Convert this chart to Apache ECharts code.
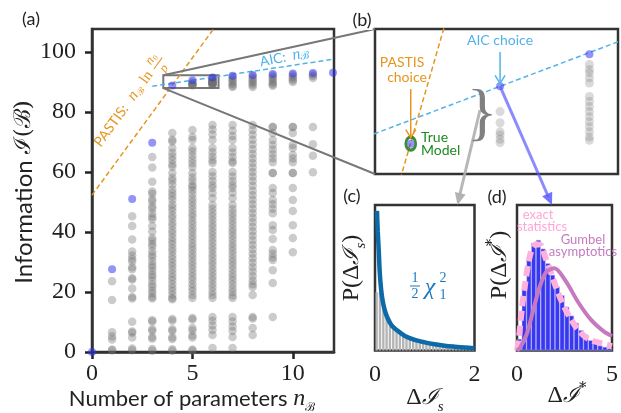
<!DOCTYPE html>
<html>
<head>
<meta charset="utf-8">
<script src="https://cdn.jsdelivr.net/npm/echarts@6/dist/echarts.min.js"></script>
<style>
html, body { margin: 0; padding: 0; background: #fff; }
#chart { width: 621px; height: 413px; }
</style>
</head>
<body>
<div id="chart"></div>
<script>
// panel (a): information of best model per number of parameters
var nParams = [0, 1, 2, 3, 4, 5, 6, 7, 8, 9, 10, 11, 12];
var blueInfo = [0, 27.6, 51.0, 69.8, 88.9, 90.6, 91.55, 92.1, 92.4, 92.7, 92.9, 93.0, 93.1];

// all other models, one list per column
var grayN1 = [23.6, 17.3, 6.6, 5.2, 4.2, 0.8, 0.5];
var grayN2 = [45.3, 42.0, 37.5, 33.5, 32.2, 31.0, 30.2, 28.3, 27.6, 24.6, 24.2, 21.2, 18.3, 17.8, 10.1, 6.8, 6.4, 4.8, 1.2, 0.6];
var grayN3 = [65.0, 61.5, 56.8, 53.5, 52.8, 51.0, 50.2, 48.6, 47.8, 46.2, 45.0, 44.3, 42.0, 40.2, 38.0, 37.2, 36.0, 35.2, 33.6, 32.4, 31.5, 30.2, 29.0, 28.2, 27.0, 25.8, 25.0, 23.8, 22.5, 21.6, 20.4, 19.5, 18.3, 17.8, 10.6, 10.2, 7.6, 7.0, 5.0, 4.4, 1.0, 0.4];
var grayN4 = [73.0, 70.8, 70.2, 68.0, 66.4, 65.2, 64.0, 62.6, 61.8, 59.7, 58.0, 57.1, 55.8, 54.2, 53.0, 51.9, 50.8, 49.2, 48.1, 47.0, 45.6, 44.5, 43.1, 42.0, 40.6, 39.5, 38.2, 37.0, 35.9, 34.6, 33.5, 32.2, 31.0, 29.8, 28.7, 27.4, 26.2, 25.0, 23.9, 22.6, 21.4, 20.3, 19.1, 18.0, 17.6, 11.0, 10.4, 7.6, 7.0, 4.9, 4.3, 0.9, 0.4];
var grayN5 = [74.0, 71.7, 70.7, 68.0, 66.9, 65.5, 64.2, 62.9, 61.7, 59.7, 58.2, 57.0, 55.6, 55.0, 53.9, 52.6, 51.2, 50.0, 48.8, 47.5, 46.2, 45.1, 43.8, 42.6, 41.3, 40.1, 38.8, 37.6, 36.3, 35.1, 33.9, 32.6, 31.4, 30.1, 28.9, 27.7, 26.4, 25.2, 24.0, 22.7, 21.5, 20.3, 19.0, 18.0, 11.3, 10.8, 8.0, 7.2, 5.5, 4.8, 0.8, 0.4, 89.85, 89.52, 89.25, 89.16, 89.03, 88.93];
var grayN6 = [75.7, 74.2, 72.5, 70.7, 68.0, 66.6, 65.2, 63.9, 63.0, 60.0, 58.6, 57.1, 55.7, 54.7, 53.0, 51.3, 49.0, 47.8, 46.5, 45.3, 44.0, 42.7, 41.5, 40.2, 39.0, 37.8, 36.5, 35.2, 34.0, 32.7, 31.5, 30.2, 29.0, 27.7, 26.5, 25.2, 24.0, 22.7, 21.5, 20.2, 19.0, 18.0, 11.7, 10.4, 8.8, 7.3, 5.7, 1.3, 91.25, 91.1, 91.0, 90.85, 90.7, 90.3, 90.15, 90.0, 89.85, 89.7, 89.55, 89.4, 89.25, 89.1, 89.0];
var grayN7 = [75.7, 73.8, 72.0, 70.7, 68.0, 66.5, 65.0, 63.6, 63.0, 60.0, 58.5, 57.0, 55.7, 54.7, 53.1, 51.3, 49.0, 47.6, 46.3, 45.0, 43.8, 42.5, 41.2, 40.0, 38.8, 37.5, 36.2, 35.0, 33.8, 32.5, 31.2, 30.0, 28.8, 27.5, 26.2, 25.0, 23.8, 22.5, 21.2, 20.0, 18.8, 18.0, 11.7, 10.2, 8.5, 7.0, 5.0, 1.3, 91.8, 91.2, 90.6, 90.0, 89.4, 88.8, 88.4];
var grayN8 = [75.7, 74.0, 72.4, 70.8, 69.2, 67.6, 66.0, 64.5, 63.0, 61.5, 60.0, 58.5, 57.0, 55.4, 53.8, 52.3, 50.8, 49.3, 47.8, 46.3, 44.8, 43.3, 41.8, 40.3, 38.8, 37.3, 35.8, 34.3, 32.8, 31.3, 29.8, 28.3, 26.8, 25.3, 23.8, 22.6, 21.7, 19.0, 11.7, 11.2, 8.0, 5.7, 92.0, 91.4, 90.8, 90.2, 89.6, 89.0, 88.4];
var grayN9 = [75.0, 75.0, 73.0, 70.7, 69.0, 67.5, 66.0, 64.6, 63.3, 59.7, 59.7, 54.7, 53.0, 50.7, 49.3, 47.8, 46.3, 42.3, 40.7, 37.7, 34.0, 32.8, 31.5, 30.7, 27.3, 23.0, 11.7, 92.2, 91.6, 91.0, 90.4, 89.8, 89.2, 88.8];
var grayN10 = [75.0, 75.0, 73.0, 69.0, 68.0, 65.7, 64.5, 63.3, 59.7, 59.7, 54.7, 50.7, 47.0, 42.3, 38.0, 33.3, 92.4, 91.8, 91.2, 90.6, 90.0];
var grayN11 = [75.0, 69.3, 65.4, 59.9, 92.5, 92.0, 91.4];

// selection criteria lines (end points)
var pastisX = [0, 6.05];
var pastisY = [52.3, 107.7];
var aicX = [3, 12];
var aicY = [88.6, 97.6];

// panel (c): chi-square curve and histogram
var chiX = [0.04, 0.055, 0.075, 0.095, 0.12, 0.15, 0.19, 0.25, 0.33, 0.45, 0.6, 0.8, 1.0, 1.2, 1.4, 1.6, 1.8, 2.0];
var chiY = [0.96, 0.82, 0.69, 0.54, 0.43, 0.35, 0.285, 0.225, 0.175, 0.137, 0.1, 0.073, 0.056, 0.043, 0.033, 0.026, 0.02, 0.016];
var histSX = [0.033, 0.1, 0.167, 0.233, 0.3, 0.367, 0.433, 0.5, 0.567, 0.633, 0.7, 0.767, 0.833, 0.9, 0.967, 1.033, 1.1, 1.167, 1.233, 1.3, 1.367, 1.433, 1.5, 1.567, 1.633, 1.7, 1.767, 1.833, 1.9, 1.967];
var histSY = [0.40, 0.40, 0.28, 0.22, 0.18, 0.15, 0.13, 0.115, 0.1, 0.088, 0.078, 0.07, 0.062, 0.055, 0.05, 0.045, 0.04, 0.036, 0.032, 0.029, 0.026, 0.023, 0.021, 0.019, 0.017, 0.015, 0.013, 0.012, 0.011, 0.01];

// panel (d): max statistic histogram, exact and Gumbel curves
var histDX = [0.125, 0.375, 0.625, 0.875, 1.125, 1.375, 1.625, 1.875, 2.125, 2.375, 2.625, 2.875, 3.125, 3.375, 3.625, 3.875, 4.125, 4.375, 4.625, 4.875];
var histDY = [0.08, 0.42, 0.63, 0.74, 0.76, 0.70, 0.60, 0.52, 0.44, 0.38, 0.30, 0.24, 0.19, 0.14, 0.11, 0.07, 0.05, 0.035, 0.025, 0.015];
var exactX = [0, 0.09, 0.25, 0.43, 0.6, 0.77, 1.02, 1.27, 1.52, 1.78, 2.04, 2.38, 2.72, 3.23, 3.74, 4.42, 5.0];
var exactY = [0, 0.07, 0.28, 0.46, 0.6, 0.69, 0.73, 0.72, 0.63, 0.54, 0.44, 0.33, 0.24, 0.14, 0.08, 0.05, 0.03];
var gumbelX = [0, 0.17, 0.52, 0.86, 1.2, 1.54, 1.97, 2.55, 3.23, 3.9, 4.58, 5.0];
var gumbelY = [0, 0.02, 0.115, 0.28, 0.44, 0.54, 0.565, 0.48, 0.33, 0.21, 0.13, 0.1];

var ORANGE = '#e6951f';
var SKY = '#52b2ea';
var GREEN = '#1c8a1c';
var SANS = 'Lato';
var SERIF = 'Liberation Serif';

function zip(xs, ys) {
    var out = [];
    for (var i = 0; i < xs.length; i++) out.push([xs[i], ys[i]]);
    return out;
}

var grayCols = [null, grayN1, grayN2, grayN3, grayN4, grayN5, grayN6, grayN7, grayN8, grayN9, grayN10, grayN11];
var grayData = [];
for (var n = 1; n < grayCols.length; n++) {
    for (var k = 0; k < grayCols[n].length; k++) grayData.push([n, grayCols[n][k]]);
}
// only the points that fall in the zoom window of (b)
var zoomGray = grayData.filter(function(p) { return p[1] > 87.5; });
var blueData = zip(nParams, blueInfo);

var chart = echarts.init(document.getElementById('chart'), null, {renderer: 'canvas'});

function boxGrid(l, t, w, h) {
    return {left: l, top: t, width: w, height: h, show: true, borderColor: '#333', borderWidth: 2.5, backgroundColor: '#fff'};
}
function hiddenAxis(idx, min, max) {
    return {type: 'value', gridIndex: idx, min: min, max: max, show: false};
}
var tickFont = {fontFamily: SERIF, fontSize: 24, color: '#222'};

var option = {
    animation: false,
    backgroundColor: '#fff',
    grid: [
        boxGrid(92, 29, 242, 323),
        boxGrid(375, 29, 243, 145),
        boxGrid(375, 205, 99.5, 145.5),
        boxGrid(517, 205, 99, 145.5)
    ],
    xAxis: [
        {type: 'value', gridIndex: 0, min: 0, max: 12.05, interval: 5,
         axisLine: {lineStyle: {color: '#333', width: 2.5}},
         axisTick: {length: 7, lineStyle: {color: '#222', width: 2.5}},
         axisLabel: Object.assign({margin: 10, showMaxLabel: false}, tickFont),
         splitLine: {show: false}},
        hiddenAxis(1, 3.6, 6.32),
        {type: 'value', gridIndex: 2, min: 0, max: 2, interval: 2,
         axisLine: {show: false}, axisTick: {show: false}, splitLine: {show: false},
         axisLabel: Object.assign({margin: 12, showMinLabel: true, showMaxLabel: true}, tickFont)},
        {type: 'value', gridIndex: 3, min: 0, max: 5, interval: 5,
         axisLine: {show: false}, axisTick: {show: false}, splitLine: {show: false},
         axisLabel: Object.assign({margin: 12, showMinLabel: true, showMaxLabel: true}, tickFont)}
    ],
    yAxis: [
        {type: 'value', gridIndex: 0, min: 0, max: 107.7, interval: 20,
         axisLine: {lineStyle: {color: '#333', width: 2.5}},
         axisTick: {length: 7, lineStyle: {color: '#222', width: 2.5}},
         axisLabel: Object.assign({margin: 16, showMaxLabel: false}, tickFont),
         splitLine: {show: false}},
        hiddenAxis(1, 88, 92.3),
        hiddenAxis(2, 0, 1),
        hiddenAxis(3, 0, 1)
    ],
    series: [
        // (a)
        {type: 'scatter', xAxisIndex: 0, yAxisIndex: 0, data: grayData, symbolSize: 8.5,
         itemStyle: {color: 'rgba(112,112,112,0.45)'}, z: 2},
        {type: 'line', xAxisIndex: 0, yAxisIndex: 0, data: zip(pastisX, pastisY), symbol: 'none',
         lineStyle: {color: ORANGE, width: 1.5, type: [5, 3]}, z: 3},
        {type: 'line', xAxisIndex: 0, yAxisIndex: 0, data: zip(aicX, aicY), symbol: 'none',
         lineStyle: {color: SKY, width: 1.5, type: [5, 3]}, z: 3,
         markArea: {silent: true, itemStyle: {color: 'rgba(0,0,0,0)', borderColor: '#777', borderWidth: 2},
                    data: [[{coord: [3.55, 92.3]}, {coord: [6.3, 88]}]]}},
        {type: 'scatter', xAxisIndex: 0, yAxisIndex: 0, data: blueData, symbolSize: 8,
         itemStyle: {color: 'rgba(50,50,240,0.65)'}, z: 4},
        // (b) zoom
        {type: 'scatter', xAxisIndex: 1, yAxisIndex: 1, data: zoomGray, symbolSize: 9,
         itemStyle: {color: 'rgba(128,128,128,0.36)'}, z: 2},
        {type: 'line', xAxisIndex: 1, yAxisIndex: 1, data: zip(pastisX, pastisY), symbol: 'none',
         lineStyle: {color: ORANGE, width: 1.5, type: [5, 3]}, z: 3},
        {type: 'line', xAxisIndex: 1, yAxisIndex: 1, data: zip(aicX, aicY), symbol: 'none',
         lineStyle: {color: SKY, width: 1.5, type: [5, 3]}, z: 3},
        {type: 'scatter', xAxisIndex: 1, yAxisIndex: 1, data: blueData, symbolSize: 8,
         itemStyle: {color: 'rgba(50,50,240,0.65)'}, z: 4},
        {type: 'scatter', xAxisIndex: 1, yAxisIndex: 1, data: [blueData[4]], symbolSize: [10, 13],
         itemStyle: {color: 'rgba(0,0,0,0)', borderColor: '#0f6e0f', borderWidth: 3}, z: 5},
        // (c)
        {type: 'bar', xAxisIndex: 2, yAxisIndex: 2, data: zip(histSX, histSY), barWidth: 2.4,
         itemStyle: {color: '#b4b4b4'}, z: 2},
        {type: 'line', xAxisIndex: 2, yAxisIndex: 2, data: zip(chiX, chiY), symbol: 'none', smooth: 0.3,
         lineStyle: {color: '#0d6aa8', width: 4.5}, z: 3},
        // (d)
        {type: 'bar', xAxisIndex: 3, yAxisIndex: 3, data: zip(histDX, histDY), barWidth: 4.9,
         itemStyle: {color: '#3838f0', borderColor: 'rgba(190,190,255,0.9)', borderWidth: 0.6}, z: 2},
        {type: 'line', xAxisIndex: 3, yAxisIndex: 3, data: zip(exactX, exactY), symbol: 'none', smooth: 0.3,
         lineStyle: {color: '#ffb0dc', width: 6, type: [10, 5]}, z: 3},
        {type: 'line', xAxisIndex: 3, yAxisIndex: 3, data: zip(gumbelX, gumbelY), symbol: 'none', smooth: 0.3,
         lineStyle: {color: '#c779c0', width: 4}, z: 4}
    ]
};
chart.setOption(option);

// ---- annotations ----
function txt(x, y, text, style, rot) {
    return {type: 'text', x: x, y: y, rotation: rot || 0, z: 50,
            style: Object.assign({text: text, align: 'center', verticalAlign: 'middle', fill: '#222'}, style)};
}
function seg(pts, color, w) {
    return {type: 'polyline', z: 40, shape: {points: pts}, style: {stroke: color, lineWidth: w, fill: null}};
}
function arrowHead(from, tip, len, half, color) {
    var dx = tip[0] - from[0], dy = tip[1] - from[1];
    var l = Math.sqrt(dx * dx + dy * dy);
    dx /= l; dy /= l;
    var bx = tip[0] - dx * len, by = tip[1] - dy * len;
    return {type: 'polygon', z: 41, shape: {points: [tip, [bx - dy * half, by + dx * half], [bx + dy * half, by - dx * half]]},
            style: {fill: color}};
}

var rA = chart.convertToPixel({gridIndex: 0}, [3.55, 92.3]);
var rB = chart.convertToPixel({gridIndex: 0}, [3.55, 88]);
var aicPt = chart.convertToPixel({gridIndex: 1}, blueData[5]);
var truePt = chart.convertToPixel({gridIndex: 1}, blueData[4]);

var mathRich = {
    m: {fontFamily: SERIF, fontSize: 24, fontStyle: 'italic', fill: '#222'},
    r: {fontFamily: SERIF, fontSize: 24, fill: '#222'},
    c: {fontFamily: 'DejaVu Serif', fontSize: 22, fontStyle: 'italic', fill: '#222'},
    b: {fontFamily: SERIF, fontSize: 15, fontStyle: 'italic', fill: '#222', verticalAlign: 'bottom', lineHeight: 34},
    p: {fontFamily: 'DejaVu Serif', fontSize: 15, fill: '#222', verticalAlign: 'top', lineHeight: 30}
};

var graphics = [
    // zoom lines (a) -> (b)
    seg([rA, [375, 29]], '#777', 2),
    seg([rB, [375, 174]], '#777', 2),
    // panel letters
    txt(31, 19, '(a)', {fontFamily: SANS, fontSize: 18}),
    txt(362, 20, '(b)', {fontFamily: SANS, fontSize: 18, backgroundColor: '#fff', padding: [1, 1]}),
    txt(352, 196, '(c)', {fontFamily: SANS, fontSize: 18}),
    txt(497, 197, '(d)', {fontFamily: SANS, fontSize: 18}),
    // (a) axis titles
    txt(24, 192, '{s|Information }{c|ℐ(ℬ)}', {rich: {
        s: {fontFamily: SANS, fontSize: 24, fill: '#222'},
        c: {fontFamily: 'DejaVu Serif', fontSize: 23, fill: '#222'}}}, Math.PI / 2),
    txt(192, 399, '{s|Number of parameters }{m|n}{b|ℬ}', {rich: {
        s: {fontFamily: SANS, fontSize: 22, fill: '#222'},
        m: {fontFamily: SERIF, fontSize: 24, fontStyle: 'italic', fill: '#222'},
        b: {fontFamily: 'DejaVu Serif', fontSize: 12, fill: '#222', verticalAlign: 'bottom', lineHeight: 30}}}),
    // (c),(d) axis titles
    txt(352, 268, '{r|P(Δ}{c|ℐ}{b|s}{r|)}', {rich: mathRich}, Math.PI / 2),
    txt(425, 398, '{r|Δ}{c|ℐ}{b|s}', {rich: mathRich}),
    txt(500, 265, '{r|P(Δ}{c|ℐ}{p|*}{r|)}', {rich: mathRich}, Math.PI / 2),
    txt(567, 396, '{r|Δ}{c|ℐ}{p|*}', {rich: mathRich}),
    // criteria labels in (a)
    {type: 'group', x: 97, y: 145, rotation: 53.8 * Math.PI / 180, z: 50, children: [
        {type: 'text', x: 0, y: 0, style: {text: 'PASTIS:', fontFamily: SANS, fontSize: 14, fill: ORANGE, verticalAlign: 'middle'}},
        {type: 'text', x: 57, y: 0, style: {text: 'n', fontFamily: SERIF, fontSize: 16, fontStyle: 'italic', fill: ORANGE, verticalAlign: 'middle'}},
        {type: 'text', x: 65, y: 4, style: {text: 'ℬ', fontFamily: 'DejaVu Serif', fontSize: 9, fill: ORANGE, verticalAlign: 'middle'}},
        {type: 'text', x: 78, y: 0, style: {text: 'ln', fontFamily: SERIF, fontSize: 15, fill: ORANGE, verticalAlign: 'middle'}},
        {type: 'text', x: 96, y: -7, style: {text: 'n', fontFamily: SERIF, fontSize: 13, fontStyle: 'italic', fill: ORANGE, verticalAlign: 'middle'}},
        {type: 'text', x: 103, y: -4, style: {text: '0', fontFamily: SERIF, fontSize: 8, fill: ORANGE, verticalAlign: 'middle'}},
        {type: 'line', shape: {x1: 95, y1: 1, x2: 109, y2: 1}, style: {stroke: ORANGE, lineWidth: 1}},
        {type: 'text', x: 98, y: 9, style: {text: 'p', fontFamily: SERIF, fontSize: 13, fontStyle: 'italic', fill: ORANGE, verticalAlign: 'middle'}}
    ]},
    {type: 'group', x: 260, y: 62, rotation: 11 * Math.PI / 180, z: 50, children: [
        {type: 'text', x: 0, y: 0, style: {text: 'AIC:', fontFamily: SANS, fontSize: 14, fill: SKY, verticalAlign: 'middle'}},
        {type: 'text', x: 33, y: 0, style: {text: 'n', fontFamily: SERIF, fontSize: 16, fontStyle: 'italic', fill: SKY, verticalAlign: 'middle'}},
        {type: 'text', x: 41, y: 3, style: {text: 'ℬ', fontFamily: 'DejaVu Serif', fontSize: 11, fill: SKY, verticalAlign: 'middle'}}
    ]},
    // (b) annotations
    txt(500, 40, 'AIC choice', {fontFamily: SANS, fontSize: 14, fill: SKY}),
    seg([[aicPt[0], 52], [aicPt[0], aicPt[1] - 3]], SKY, 1.5),
    seg([[aicPt[0] - 5, aicPt[1] - 11], [aicPt[0], aicPt[1] - 3], [aicPt[0] + 5, aicPt[1] - 11]], SKY, 1.5),
    txt(402, 62, 'PASTIS', {fontFamily: SANS, fontSize: 14, fill: ORANGE}),
    txt(407, 77, 'choice', {fontFamily: SANS, fontSize: 14, fill: ORANGE}),
    seg([[truePt[0], 89], [truePt[0], truePt[1] - 6]], ORANGE, 1.5),
    seg([[truePt[0] - 5, truePt[1] - 14], [truePt[0], truePt[1] - 6], [truePt[0] + 5, truePt[1] - 14]], ORANGE, 1.5),
    {type: 'text', x: 421, y: 137, z: 50, style: {text: 'True', fontFamily: SANS, fontSize: 14, fill: GREEN, verticalAlign: 'middle'}},
    {type: 'text', x: 421, y: 150, z: 50, style: {text: 'Model', fontFamily: SANS, fontSize: 14, fill: GREEN, verticalAlign: 'middle'}},
    txt(482, 116, '}', {fontFamily: SERIF, fontSize: 64, fill: '#808080'}),
    // (b) -> (c) and (b) -> (d)
    seg([[480, 110], [459.5, 196]], 'rgba(175,175,175,0.9)', 3),
    arrowHead([480, 110], [457.5, 205], 12, 5.5, 'rgba(175,175,175,0.95)'),
    seg([aicPt, [548.5, 197]], 'rgba(90,90,255,0.7)', 3),
    arrowHead(aicPt, [552, 205], 12, 5.5, 'rgba(90,90,255,0.85)'),
    // (c) label
    txt(415, 278, '1', {fontFamily: SERIF, fontSize: 14, fill: '#1b78c0'}),
    {type: 'line', z: 50, shape: {x1: 410, y1: 286, x2: 420, y2: 286}, style: {stroke: '#1b78c0', lineWidth: 1}},
    txt(415, 294, '2', {fontFamily: SERIF, fontSize: 14, fill: '#1b78c0'}),
    txt(430, 288, 'χ', {fontFamily: SERIF, fontSize: 24, fontStyle: 'italic', fill: '#1b78c0'}),
    txt(443, 278, '2', {fontFamily: SERIF, fontSize: 14, fill: '#1b78c0'}),
    txt(443, 295, '1', {fontFamily: SERIF, fontSize: 14, fill: '#1b78c0'}),
    // (d) labels
    txt(538, 215, 'exact', {fontFamily: SANS, fontSize: 13, fill: '#ffa6d8'}),
    txt(542, 227, 'statistics', {fontFamily: SANS, fontSize: 13, fill: '#ffa6d8'}),
    txt(583, 240, 'Gumbel', {fontFamily: SANS, fontSize: 13, fill: '#c47cbf'}),
    txt(583, 252, 'asymptotics', {fontFamily: SANS, fontSize: 13, fill: '#c47cbf'})
];
chart.setOption({graphic: graphics});
</script>
</body>
</html>
